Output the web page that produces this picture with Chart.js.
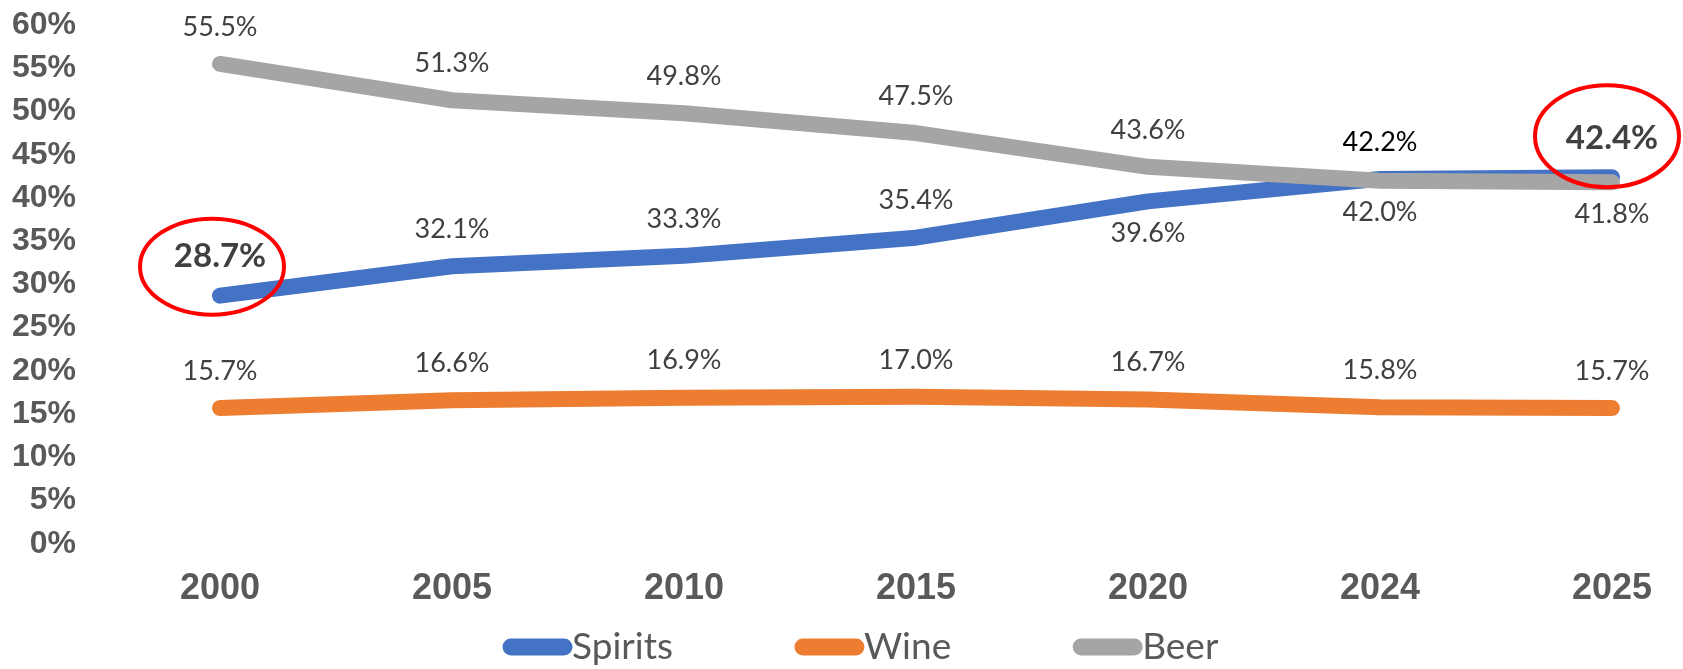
<!DOCTYPE html>
<html>
<head>
<meta charset="utf-8">
<script src="https://cdn.jsdelivr.net/npm/chart.js@4.4.1/dist/chart.umd.min.js"></script>
<style>
  html, body { margin: 0; padding: 0; background: #fff; }
  #wrap { width: 1683px; height: 669px; }
</style>
</head>
<body>
<div id="wrap"><canvas id="myChart"></canvas></div>
<script>
var years = ["2000", "2005", "2010", "2015", "2020", "2024", "2025"];
var spirits = [28.7, 32.1, 33.3, 35.4, 39.6, 42.2, 42.4];
var wine = [15.7, 16.6, 16.9, 17.0, 16.7, 15.8, 15.7];
var beer = [55.5, 51.3, 49.8, 47.5, 43.6, 42.0, 41.8];

// where each value label sits, relative to its point
var spiritsPos = ["above", "above", "above", "above", "below", "above", "above"];
var winePos = ["above", "above", "above", "above", "above", "above", "above"];
var beerPos = ["above", "above", "above", "above", "above", "below", "below"];

// circled labels (index into spirits)
var circled = [0, 6];

var axisGrey = "#595959";
var labelGrey = "#404040";

// value labels drawn over each point
const pointLabels = {
  id: "pointLabels",
  afterDatasetsDraw(chart) {
    const ctx = chart.ctx;
    ctx.save();
    ctx.textAlign = "center";
    ctx.textBaseline = "middle";
    chart.data.datasets.forEach((ds, di) => {
      const meta = chart.getDatasetMeta(di);
      meta.data.forEach((pt, i) => {
        const big = ds.label === "Spirits" && circled.indexOf(i) >= 0;
        const dy = ds.labelPos[i] === "below" ? 32 : (big ? -39 : -37);
        ctx.font = big ? "bold 33px Lato" : "27px Lato";
        ctx.fillStyle = (ds.label === "Spirits" && i === 5) ? "#000" : labelGrey;
        ctx.fillText(ds.data[i].toFixed(1) + "%", pt.x, pt.y + dy);
      });
    });
    ctx.restore();
  }
};

// red rings round the first and last spirits labels
const rings = {
  id: "rings",
  afterDraw(chart) {
    const ctx = chart.ctx;
    const pts = chart.getDatasetMeta(0).data;
    ctx.save();
    ctx.strokeStyle = "#ff0000";
    ctx.lineWidth = 4;
    circled.forEach((i, k) => {
      const p = pts[i];
      ctx.beginPath();
      if (k === 0) ctx.ellipse(p.x - 8, p.y - 29, 72, 48, 0, 0, Math.PI * 2);
      else ctx.ellipse(p.x - 5, p.y - 41, 72, 51, 0, 0, Math.PI * 2);
      ctx.stroke();
    });
    ctx.restore();
  }
};

// legend with line swatches, Excel style
const lineLegend = {
  id: "lineLegend",
  afterDraw(chart) {
    const ctx = chart.ctx;
    const y = chart.height - 22;
    let x = 503;
    ctx.save();
    ctx.font = "37px Lato";
    ctx.textBaseline = "middle";
    ctx.textAlign = "left";
    chart.data.datasets.forEach(ds => {
      ctx.strokeStyle = ds.borderColor;
      ctx.lineWidth = 17;
      ctx.lineCap = "round";
      ctx.beginPath();
      ctx.moveTo(x + 8, y);
      ctx.lineTo(x + 61, y);
      ctx.stroke();
      ctx.fillStyle = axisGrey;
      ctx.fillText(ds.label, x + 69, y);
      x += 69 + ctx.measureText(ds.label).width + 122;
    });
    ctx.restore();
  }
};

new Chart("myChart", {
  type: "line",
  data: {
    labels: years,
    datasets: [
      { label: "Spirits", data: spirits, labelPos: spiritsPos, borderColor: "#4472C4", backgroundColor: "#4472C4", order: 1 },
      { label: "Wine", data: wine, labelPos: winePos, borderColor: "#ED7D31", backgroundColor: "#ED7D31", order: 2 },
      { label: "Beer", data: beer, labelPos: beerPos, borderColor: "#A5A5A5", backgroundColor: "#A5A5A5", order: 0 }
    ]
  },
  options: {
    responsive: true,
    maintainAspectRatio: false,
    animation: false,
    layout: { padding: { left: 12, right: 71, top: 25, bottom: 34 } },
    elements: {
      line: { borderWidth: 16, tension: 0, borderCapStyle: "round", borderJoinStyle: "round", fill: false },
      point: { radius: 0, hoverRadius: 0 }
    },
    plugins: {
      legend: { display: false },
      tooltip: { enabled: false }
    },
    scales: {
      x: {
        offset: false,
        grid: { display: false, drawTicks: false },
        border: { display: false },
        ticks: {
          padding: 24,
          autoSkip: false,
          maxRotation: 0,
          color: axisGrey,
          font: { family: "Liberation Sans", size: 36, weight: "bold" }
        }
      },
      y: {
        min: 0,
        max: 60,
        grid: { display: false, drawTicks: false },
        border: { display: false },
        afterFit: function (scale) {
          scale.width = 208;
          scale.paddingTop = 0;
          scale.paddingBottom = 0;
        },
        ticks: {
          stepSize: 5,
          autoSkip: false,
          padding: 144,
          color: axisGrey,
          font: { family: "Liberation Sans", size: 32, weight: "bold" },
          callback: function (v) { return v + "%"; }
        }
      }
    }
  },
  plugins: [pointLabels, rings, lineLegend]
});
</script>
</body>
</html>
